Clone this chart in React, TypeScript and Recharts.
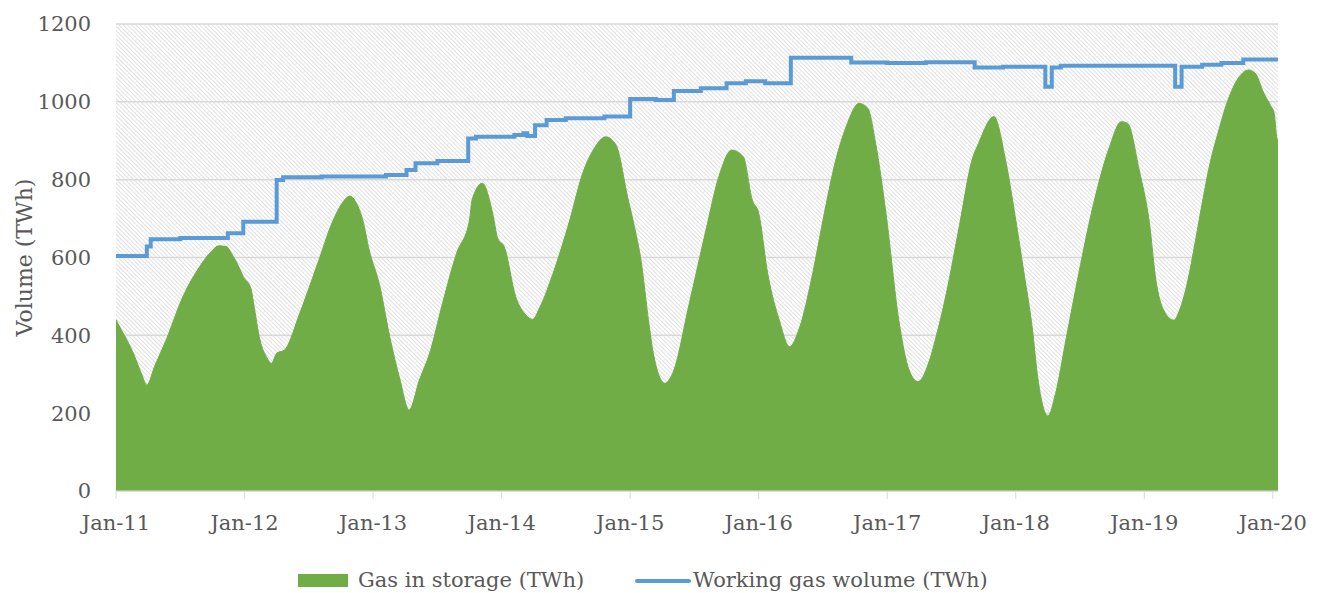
import React from "react";
import {
    ComposedChart,
    Area,
    Line,
    XAxis,
    YAxis,
    CartesianGrid,
    Legend,
} from "recharts";

// x values are decimal years (2011.5 = mid 2011)
const yearTicks = [2011, 2012, 2013, 2014, 2015, 2016, 2017, 2018, 2019, 2020];
const volumeTicks = [0, 200, 400, 600, 800, 1000, 1200];

const storageDates = [
    2011.0, 2011.04, 2011.09, 2011.135, 2011.2, 2011.24, 2011.3, 2011.39, 2011.52, 2011.65,
    2011.74, 2011.8, 2011.86, 2011.9, 2011.95, 2011.99, 2012.05, 2012.07, 2012.12, 2012.17,
    2012.21, 2012.25, 2012.31, 2012.43, 2012.56, 2012.69, 2012.76, 2012.82, 2012.87, 2012.92,
    2012.97, 2013.05, 2013.13, 2013.21, 2013.28, 2013.36, 2013.44, 2013.54, 2013.65, 2013.75,
    2013.77, 2013.85, 2013.93, 2013.97, 2014.02, 2014.11, 2014.19, 2014.24, 2014.3, 2014.4,
    2014.53, 2014.63, 2014.72, 2014.81, 2014.89, 2014.98, 2015.05, 2015.08, 2015.15, 2015.18,
    2015.27, 2015.33, 2015.46, 2015.59, 2015.69, 2015.79, 2015.88, 2015.95, 2016.0, 2016.07,
    2016.16, 2016.24, 2016.32, 2016.42, 2016.5, 2016.6, 2016.68, 2016.78, 2016.85, 2016.91,
    2016.99, 2017.09, 2017.17, 2017.24, 2017.33, 2017.38, 2017.46, 2017.56, 2017.66, 2017.71,
    2017.83, 2017.92, 2018.0, 2018.06, 2018.13, 2018.17, 2018.25, 2018.31, 2018.39, 2018.49,
    2018.6, 2018.73, 2018.82, 2018.87, 2018.96, 2019.04, 2019.09, 2019.15, 2019.23, 2019.27,
    2019.35, 2019.38, 2019.45, 2019.5, 2019.58, 2019.66, 2019.74, 2019.81, 2019.86, 2019.93,
    2019.98, 2020.01, 2020.03, 2020.04,
];
const storageTWh = [
    440, 415, 385, 354, 300, 272, 320, 388, 499, 576,
    615, 630, 628, 610, 580, 551, 520, 483, 388, 345,
    328, 354, 362, 457, 576, 696, 740, 758, 740, 696,
    619, 530, 396, 285, 208, 285, 354, 482, 611, 696,
    748, 791, 714, 649, 628, 499, 452, 441, 474, 559,
    696, 816, 880, 910, 889, 756, 653, 602, 420, 354,
    277, 302, 482, 671, 808, 876, 859, 748, 714, 559,
    439, 371, 422, 559, 696, 851, 936, 996, 983, 893,
    714, 439, 311, 281, 337, 396, 508, 679, 851, 893,
    962, 851, 696, 568, 414, 294, 193, 251, 388, 559,
    731, 885, 949, 945, 825, 688, 542, 465, 439, 461,
    559, 611, 739, 825, 928, 1013, 1065, 1082, 1075, 1022,
    992, 971, 910, 900,
];

const capacityDates = [
    2011.0, 2011.24, 2011.27, 2011.5, 2011.87, 2011.99, 2012.25, 2012.3, 2012.6, 2013.1,
    2013.26, 2013.33, 2013.5, 2013.74, 2013.8, 2014.1, 2014.17, 2014.2, 2014.26, 2014.35,
    2014.5, 2014.8, 2015.0, 2015.2, 2015.34, 2015.55, 2015.75, 2015.9, 2016.05, 2016.25,
    2016.72, 2017.0, 2017.3, 2017.68, 2017.9, 2018.23, 2018.28, 2018.35, 2019.24, 2019.29,
    2019.45, 2019.6, 2019.77, 2020.04,
];
const capacityTWh = [
    604, 628, 647, 650, 662, 692, 799, 806, 808, 812,
    825, 842, 848, 906, 910, 915, 919, 912, 940, 953,
    958, 962, 1007, 1005, 1028, 1035, 1048, 1053, 1048, 1113,
    1101, 1100, 1102, 1088, 1090, 1039, 1088, 1093, 1039, 1090,
    1095, 1100, 1109, 1112,
];

const rows = new Map<number, any>();
storageDates.forEach((t, i) => {
    const row = rows.get(t) ?? { t };
    row.gas = storageTWh[i];
    rows.set(t, row);
});
capacityDates.forEach((t, i) => {
    const row = rows.get(t) ?? { t };
    row.cap = capacityTWh[i];
    rows.set(t, row);
});
const data = [...rows.values()].sort((a, b) => a.t - b.t);

const GREEN = "#70AD47";
const BLUE = "#5B9BD5";
const TEXT = "#595959";
const FONT = "'DejaVu Serif', serif";

const renderLegend = () => (
    <div style={{ position: "relative", width: 1317, height: 30, fontFamily: FONT, fontSize: 21, color: TEXT, lineHeight: "30px" }}>
        <div style={{ position: "absolute", left: 298, top: 9, width: 50, height: 13, background: GREEN }} />
        <span style={{ position: "absolute", left: 358, top: 0, whiteSpace: "nowrap" }}>
            Gas in storage (TWh)
        </span>
        <div style={{ position: "absolute", left: 635, top: 14, width: 56, height: 4, background: BLUE, borderRadius: 2 }} />
        <span style={{ position: "absolute", left: 693, top: 0, whiteSpace: "nowrap" }}>
            Working gas wolume (TWh)
        </span>
    </div>
);

const App = () => (
    <div style={{ position: "absolute", left: 0, top: 0, width: 1317, height: 593, background: "#fff" }}>
        <ComposedChart
            width={1317}
            height={593}
            data={data}
            margin={{ top: 24, right: 39, bottom: 0, left: 0 }}
        >
            <defs>
                <pattern id="hatch" patternUnits="userSpaceOnUse" width="3" height="3" patternTransform="rotate(-45)">
                    <rect width="3" height="3" fill="#ffffff" />
                    <line x1="0" y1="0" x2="0" y2="3" stroke="#cbcbcb" strokeWidth="1.2" />
                </pattern>
            </defs>
            <CartesianGrid
                vertical={false}
                stroke="#d9d9d9"
                strokeWidth={1.5}
                fill="url(#hatch)"
                fillOpacity={1}
            />
            <XAxis
                dataKey="t"
                type="number"
                domain={[2011, 2020.04]}
                ticks={yearTicks}
                allowDataOverflow
                tickFormatter={(t: number) => `Jan-${t - 2000}`}
                height={72}
                stroke="#d9d9d9"
                tickSize={8}
                tickMargin={16}
                tick={{ fill: TEXT, fontSize: 21, fontFamily: FONT }}
            />
            <YAxis
                type="number"
                domain={[0, 1200]}
                ticks={volumeTicks}
                width={116}
                axisLine={false}
                tickLine={false}
                tickSize={0}
                tickMargin={25}
                tick={{ fill: TEXT, fontSize: 21, fontFamily: FONT }}
                label={({ viewBox }: any) => (
                    <text
                        x={viewBox.x + 24}
                        y={viewBox.y + viewBox.height / 2}
                        transform={`rotate(-90 ${viewBox.x + 24} ${viewBox.y + viewBox.height / 2})`}
                        textAnchor="middle"
                        dominantBaseline="central"
                        fill={TEXT}
                        fontSize={22}
                        fontFamily={FONT}
                    >
                        Volume (TWh)
                    </text>
                )}
            />
            <Area
                type="monotone"
                dataKey="gas"
                name="Gas in storage (TWh)"
                stroke={GREEN}
                strokeWidth={1}
                fill={GREEN}
                fillOpacity={1}
                connectNulls
                dot={false}
                activeDot={false}
                isAnimationActive={false}
            />
            <Line
                type="stepAfter"
                dataKey="cap"
                name="Working gas wolume (TWh)"
                stroke={BLUE}
                strokeWidth={4}
                connectNulls
                dot={false}
                activeDot={false}
                isAnimationActive={false}
            />
            <Legend content={renderLegend} wrapperStyle={{ left: 0, top: 565, width: 1317 }} />
        </ComposedChart>
    </div>
);

export default App;
